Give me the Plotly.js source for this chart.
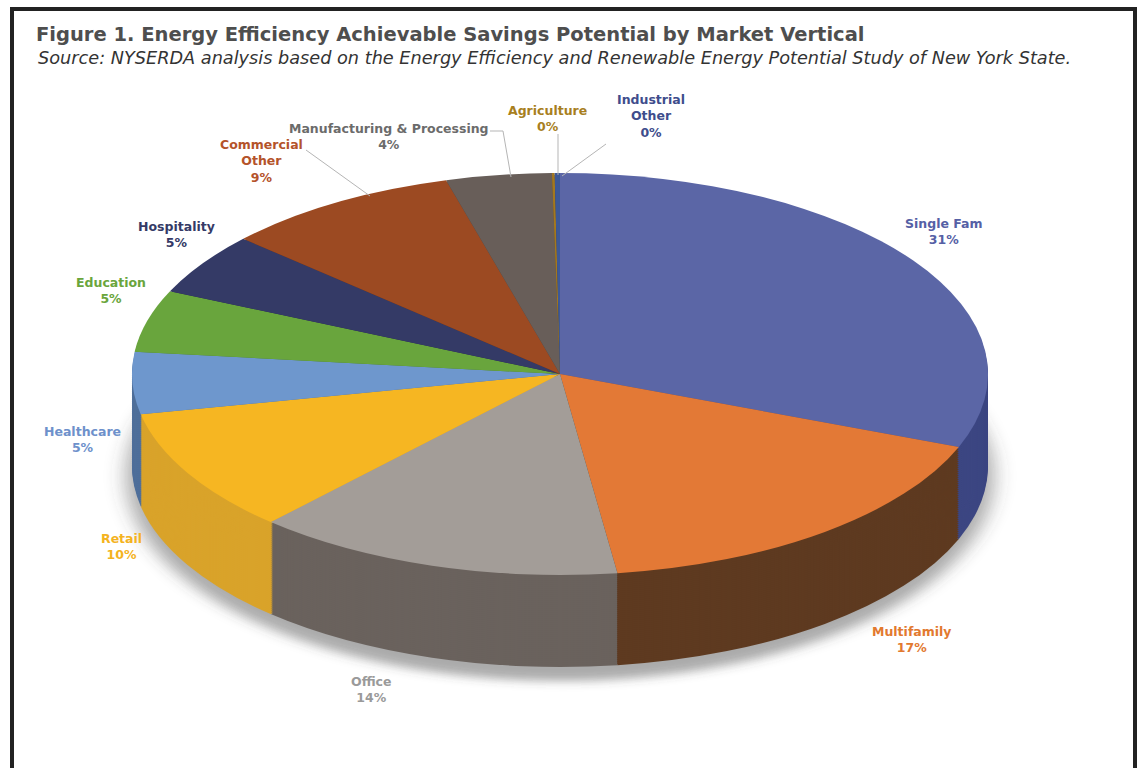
<!DOCTYPE html>
<html>
<head>
<meta charset="utf-8">
<script src="https://cdn.plot.ly/plotly-3.0.1.min.js"></script>
<style>
html,body{margin:0;padding:0;background:#fff;}
#chart{width:1137px;height:768px;}
</style>
</head>
<body>
<div id="chart"></div>
<script>
// ---------------- data ----------------
const labels = ['Single Fam','Multifamily','Office','Retail','Healthcare','Education','Hospitality','Commercial Other','Manufacturing & Processing','Agriculture','Industrial Other'];
const labelText = ['Single Fam','Multifamily','Office','Retail','Healthcare','Education','Hospitality','Commercial<br>Other','Manufacturing &amp; Processing','Agriculture','Industrial<br>Other'];
const values = [31, 17, 14, 10, 5, 5, 5, 9, 4, 0.1, 0.2];

// ---------------- styles ----------------
const topColors  = ['#5b66a6','#e37936','#a39d98','#f6b622','#6e97cd','#69a53d','#343a66','#9c4a22','#685e59','#a3781f','#3d5897'];
const sideColors = ['#3c4682','#5e3a20','#6a625d','#d9a32a','#4f6f9a','#4a7a2a','#23274a','#6b3216','#4a4240','#7a5a15','#2a3d6a'];
const textColors = ['#5560a5','#e2792f','#9a9a9a','#f4b31f','#6e91cb','#6aa53c','#353a66','#b4532a','#6b6b6b','#a87f1e','#3e4d8c'];

const W = 1137, H = 768;
const px = x => x / W;
const py = y => 1 - y / H;

// ellipse geometry (pixels)
const CX = 560, CY = 374, RA = 428, RB = 201, DEPTH = 92, SIDE_N = 46;
const domain = {x: [0.2, 0.8], y: [0.1, 0.9]};

const base = {
  type: 'pie', labels: labels, values: values, sort: false,
  direction: 'clockwise', rotation: 0, textinfo: 'none',
  hoverinfo: 'skip', showlegend: false, domain: domain
};

const traces = [];
const offsets = [];
// shadow
traces.push(Object.assign({}, base, {marker: {colors: labels.map(() => 'rgba(70,70,70,0.45)'), line: {width: 0}}}));
offsets.push({dy: DEPTH + 10, ea: RA + 6, eb: RB + 4, shadow: true});
// sides
for (let i = 0; i < SIDE_N; i++) {
  traces.push(Object.assign({}, base, {marker: {colors: sideColors, line: {width: 0}}}));
  offsets.push({dy: DEPTH * (SIDE_N - i) / SIDE_N, ea: RA, eb: RB});
}
// top face
traces.push(Object.assign({}, base, {marker: {colors: topColors, line: {width: 0}}}));
offsets.push({dy: 0, ea: RA, eb: RB});

// ---------------- labels & leaders ----------------
const labelPos = [[944,231],[912,639],[371,689],[121,546],[82,439],[111,290],[176,234],[261,161],[389,137],[547,118],[651,116]];
const annotations = labels.map((l, i) => ({
  xref: 'paper', yref: 'paper', x: px(labelPos[i][0]), y: py(labelPos[i][1]),
  xanchor: 'center', yanchor: 'middle', align: 'center', showarrow: false,
  text: labelText[i] + '<br>' + Math.round(values[i]) + '%',
  font: {family: 'DejaVu Sans', size: 12.5, weight: 'bold', color: textColors[i]}
}));
// subtitle
annotations.push({
  xref: 'paper', yref: 'paper', x: px(36), y: py(58), xanchor: 'left', yanchor: 'middle',
  showarrow: false, align: 'left',
  text: 'Source: NYSERDA analysis based on the Energy Efficiency and Renewable Energy Potential Study of New York State.',
  font: {family: 'DejaVu Sans', size: 17.7, style: 'italic', color: '#333333'}
});

const leaders = [
  [[306,150],[370,196]],
  [[490,131],[503,131],[511,177]],
  [[558,134],[558,175]],
  [[606,144],[562,176]]
];
const shapes = leaders.map(pts => ({
  type: 'path', xref: 'paper', yref: 'paper',
  path: pts.map((p, j) => (j ? 'L' : 'M') + px(p[0]) + ',' + py(p[1])).join(' '),
  line: {color: '#b5b5b5', width: 1}
}));
// frame
shapes.push({type: 'rect', xref: 'paper', yref: 'paper', x0: px(12), x1: px(1135), y0: -0.1, y1: py(9),
  line: {color: '#222', width: 4}, fillcolor: 'rgba(0,0,0,0)'});

const layout = {
  width: W, height: H,
  margin: {l: 0, r: 0, t: 0, b: 0},
  paper_bgcolor: '#ffffff', plot_bgcolor: '#ffffff',
  showlegend: false,
  title: {
    text: 'Figure 1. Energy Efficiency Achievable Savings Potential by Market Vertical',
    x: px(36), xanchor: 'left', xref: 'paper',
    y: py(34), yanchor: 'middle', yref: 'paper',
    font: {family: 'DejaVu Sans', size: 19.5, weight: 'bold', color: '#4e4e4e'}
  },
  annotations: annotations,
  shapes: shapes
};

function ensureFilter(gd) {
  const svg = gd.querySelector('svg.main-svg');
  if (!svg || svg.querySelector('#pieShadowBlur')) return;
  const ns = 'http://www.w3.org/2000/svg';
  let defs = svg.querySelector('defs');
  if (!defs) { defs = document.createElementNS(ns, 'defs'); svg.insertBefore(defs, svg.firstChild); }
  const f = document.createElementNS(ns, 'filter');
  f.setAttribute('id', 'pieShadowBlur');
  f.setAttribute('x', '-30%'); f.setAttribute('y', '-30%');
  f.setAttribute('width', '160%'); f.setAttribute('height', '160%');
  const b = document.createElementNS(ns, 'feGaussianBlur');
  b.setAttribute('stdDeviation', '7');
  f.appendChild(b); defs.appendChild(f);
}

function squash(gd) {
  ensureFilter(gd);
  const groups = gd.querySelectorAll('.pielayer g.trace');
  groups.forEach((g, i) => {
    const cd = g.__data__;
    if (!cd || !cd[0] || !offsets[i]) return;
    const c = cd[0];
    const o = offsets[i];
    const sx = o.ea / c.r, sy = o.eb / c.r;
    g.setAttribute('transform',
      'translate(' + CX + ',' + (CY + o.dy) + ') scale(' + sx + ',' + sy + ') translate(' + (-c.cx) + ',' + (-c.cy) + ')');
    if (o.shadow) g.setAttribute('filter', 'url(#pieShadowBlur)');
  });
}

const gd = document.getElementById('chart');
Plotly.newPlot(gd, traces, layout, {staticPlot: true, displayModeBar: false}).then(() => {
  squash(gd);
  gd.on('plotly_afterplot', () => squash(gd));
});
</script>
</body>
</html>
